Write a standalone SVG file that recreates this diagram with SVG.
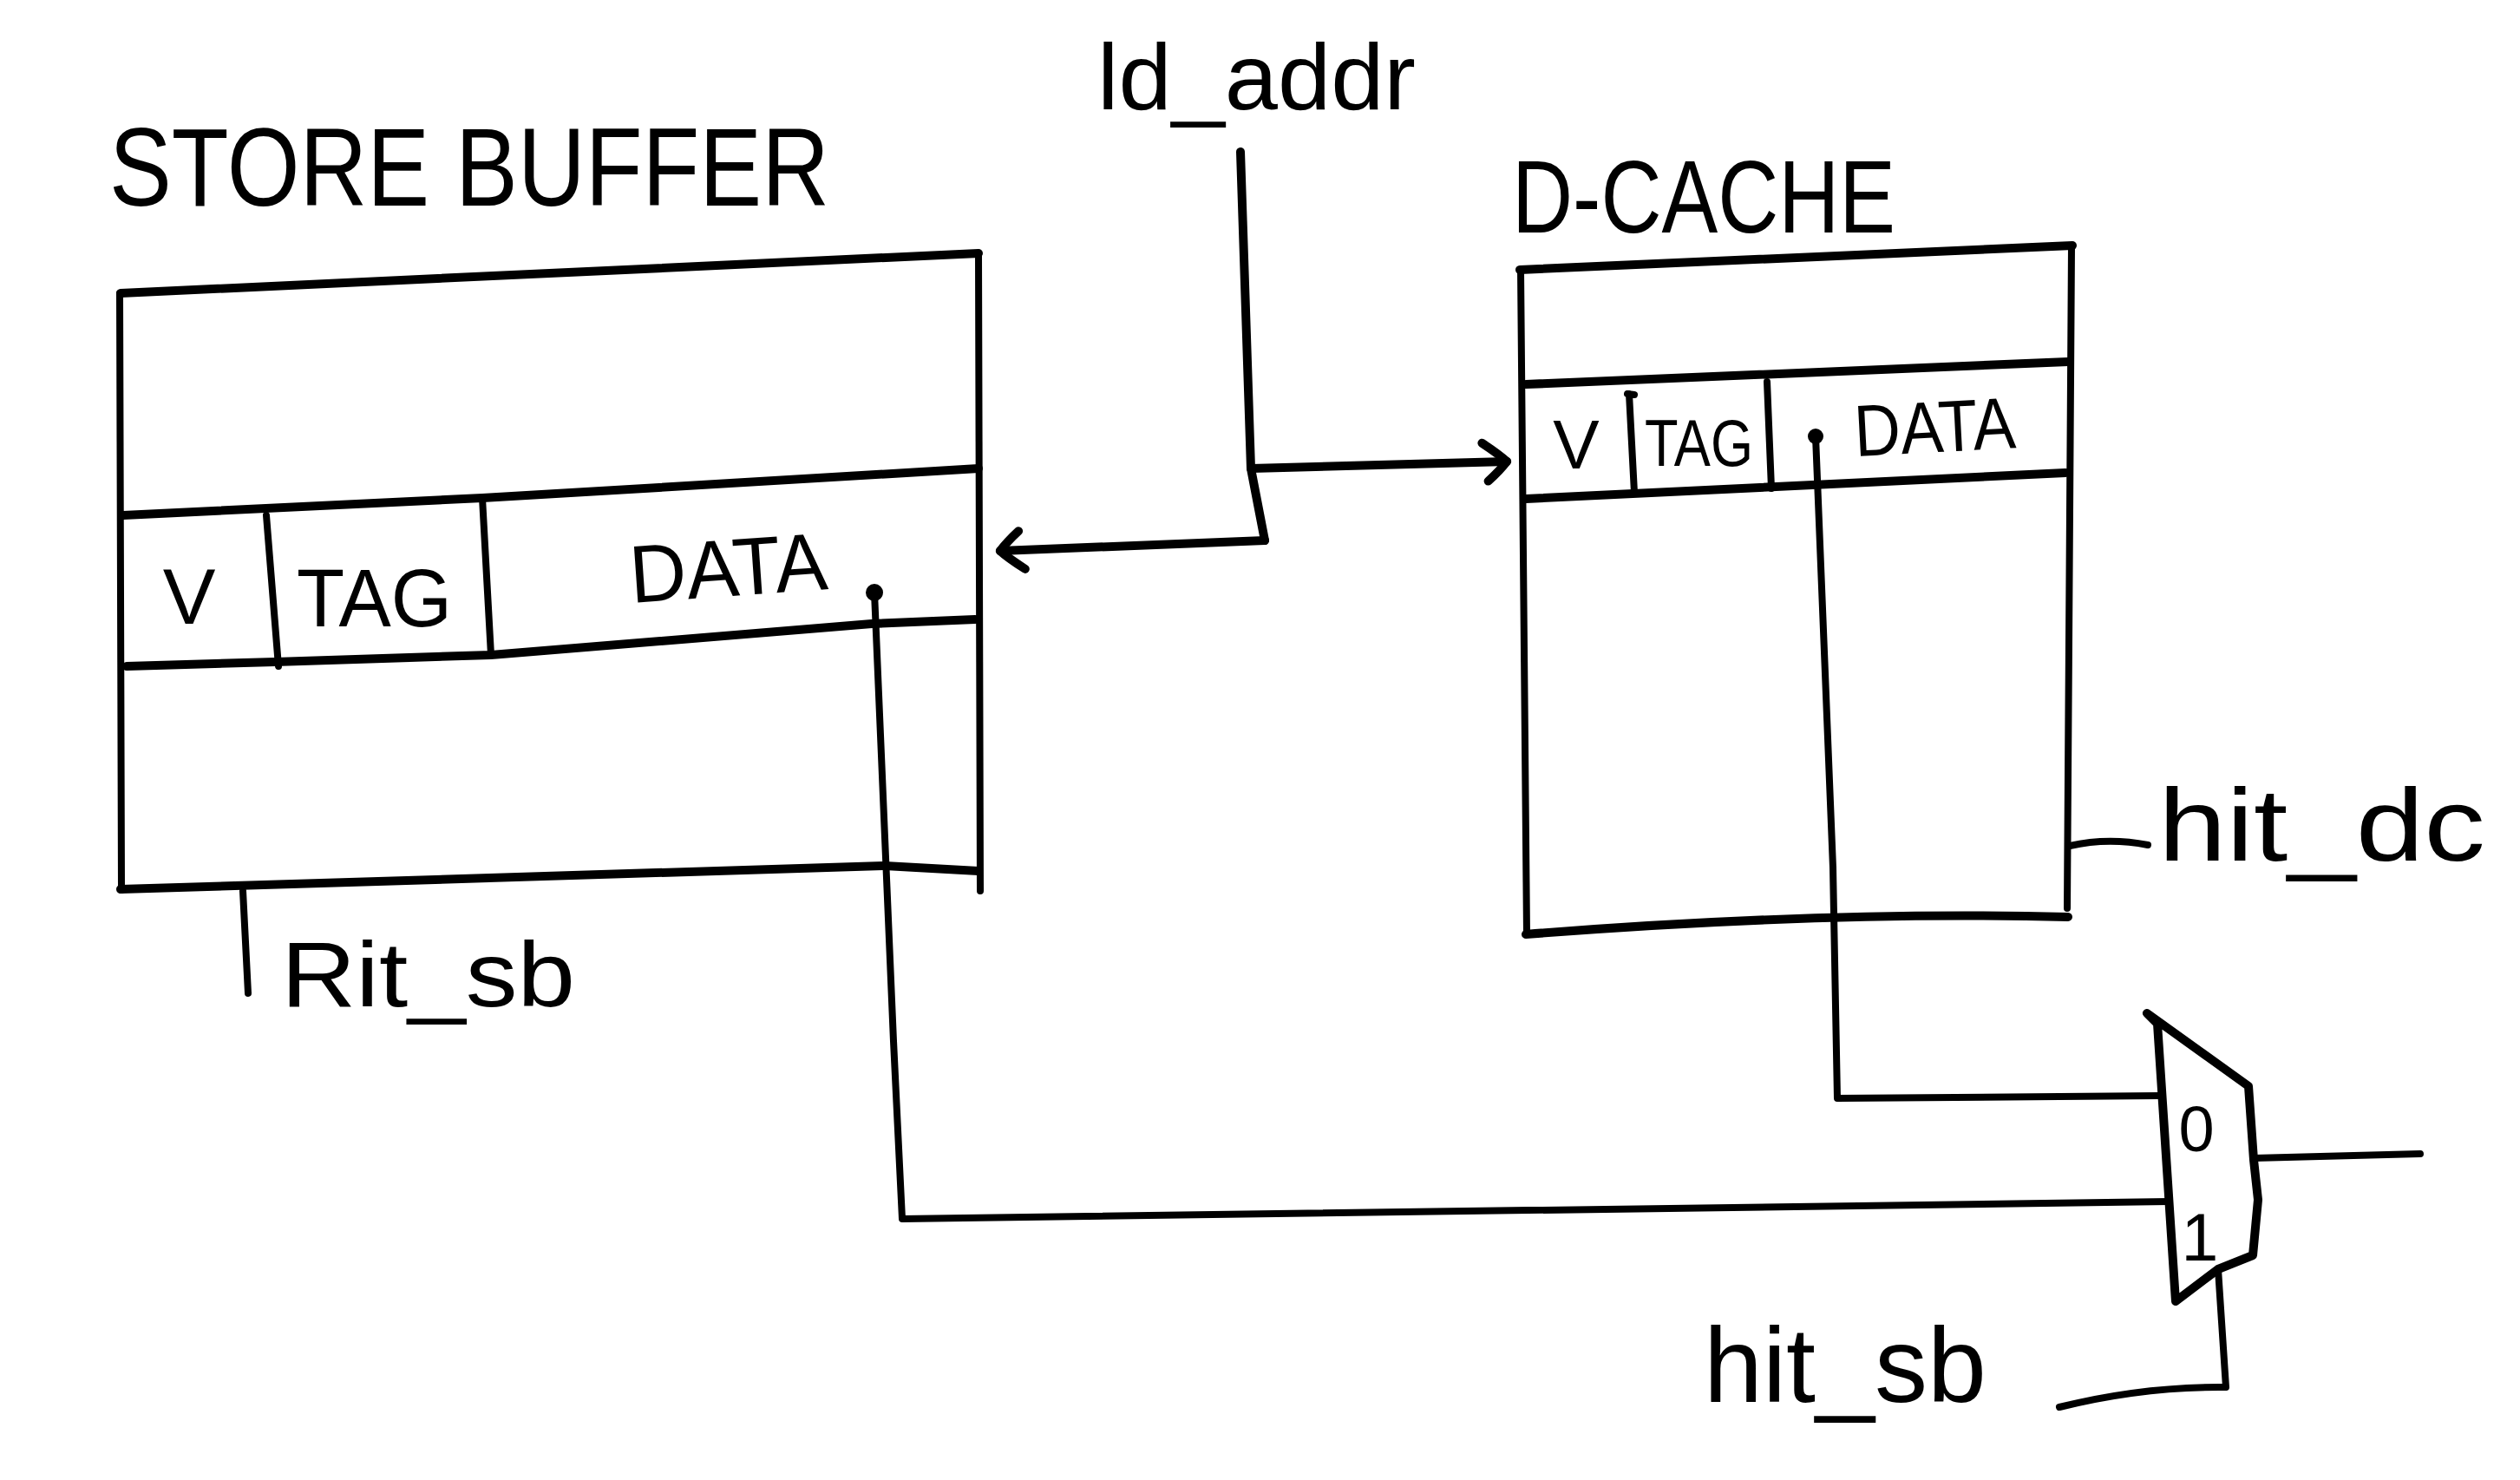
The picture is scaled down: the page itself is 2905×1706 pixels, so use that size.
<svg xmlns="http://www.w3.org/2000/svg" width="2905" height="1706" viewBox="0 0 2905 1706">
<style>
.ln{fill:none;stroke:#000;stroke-width:10;stroke-linecap:round;stroke-linejoin:round}
.th{fill:none;stroke:#000;stroke-width:8;stroke-linecap:round;stroke-linejoin:round}
.tx{font-family:"Liberation Sans","DejaVu Sans",sans-serif;fill:#000}
.dot{fill:#000}
</style>
<defs>
<marker id="arr" viewBox="0 0 50 60" refX="42" refY="30" markerWidth="50" markerHeight="60" markerUnits="userSpaceOnUse" orient="auto" overflow="visible">
<path d="M14 8 Q34 22 42 30 Q34 40 20 52" fill="none" stroke="#000" stroke-width="10" stroke-linecap="round" stroke-linejoin="round"/>
</marker>
</defs>
<rect width="2905" height="1706" fill="#fff"/>

<g id="store-buffer">
<text class="tx" x="126" y="237" font-size="128" textLength="830" lengthAdjust="spacingAndGlyphs">STORE BUFFER</text>
<path class="ln" d="M139,338 Q591,318 1128,292"/>
<path class="th" d="M138,338 L140,1026"/>
<path class="th" d="M1128,292 L1130,1027"/>
<path class="ln" d="M142,594 L556,574 L1128,540"/>
<path class="ln" d="M146,768 L317,763 L566,755 L1005,719 L1124,714"/>
<path class="ln" d="M139,1025 L1020,998 L1128,1004"/>
<path class="th" d="M307,594 L321,768"/>
<path class="th" d="M556,574 L566,755"/>
<text class="tx" x="218" y="719" font-size="91" text-anchor="middle">V</text>
<text class="tx" x="342" y="722" font-size="95" textLength="179" lengthAdjust="spacingAndGlyphs">TAG</text>
<text class="tx" x="728" y="695" font-size="94" textLength="228" lengthAdjust="spacingAndGlyphs" transform="rotate(-4 728 695)">DATA</text>
<circle class="dot" cx="1008" cy="683" r="10"/>
</g>

<g id="d-cache">
<text class="tx" x="1743" y="268" font-size="119" textLength="442" lengthAdjust="spacingAndGlyphs">D-CACHE</text>
<path class="ln" d="M1752,311 L2389,283"/>
<path class="th" d="M1753,311 L1760,1077"/>
<path class="th" d="M2388,284 L2383,1047"/>
<path class="ln" d="M1759,443 L2384,417"/>
<path class="ln" d="M1759,575 L2381,545"/>
<path class="ln" d="M1759,1077 Q2100,1050 2384,1057"/>
<path class="th" d="M1876,454 L1884,455 M1878,454 L1884,568"/>
<path class="th" d="M2037,440 L2042,563"/>
<text class="tx" x="1817" y="540" font-size="80" text-anchor="middle">V</text>
<text class="tx" x="1896" y="537" font-size="76" textLength="125" lengthAdjust="spacingAndGlyphs">TAG</text>
<text class="tx" x="2139" y="526" font-size="84" textLength="186" lengthAdjust="spacingAndGlyphs" transform="rotate(-3 2139 526)">DATA</text>
<circle class="dot" cx="2093" cy="503" r="9"/>
</g>

<g id="mux">
<path class="ln" d="M2475,1168 L2487,1180 L2508,1500 L2557,1463 L2597,1447 L2603,1383 L2598,1337 L2592,1252 Z"/>
<text class="tx" x="2532" y="1327" font-size="74" text-anchor="middle">0</text>
<text class="tx" x="2536" y="1453" font-size="77" text-anchor="middle">1</text>
</g>

<g id="label-ld-addr"><text class="tx" x="1265" y="126" font-size="108" textLength="367" lengthAdjust="spacingAndGlyphs">ld_addr</text></g>
<g id="label-hit-sb-top"><text class="tx" x="324" y="1160" font-size="106" textLength="339" lengthAdjust="spacingAndGlyphs">Rit_sb</text></g>
<g id="label-hit-dc"><text class="tx" x="2488" y="992" font-size="119" textLength="377" lengthAdjust="spacingAndGlyphs">hit_dc</text></g>
<g id="label-hit-sb"><text class="tx" x="1964" y="1616" font-size="122" textLength="326" lengthAdjust="spacingAndGlyphs">hit_sb</text></g>

<g id="connectors">
<path class="ln" d="M1430,175 L1442,540 L1458,623"/>
<path class="ln" d="M1442,540 L1737,532" marker-end="url(#arr)"/>
<path class="ln" d="M1458,623 L1153,635" marker-end="url(#arr)"/>
<path class="th" d="M1008,683 L1030,1200 L1040,1405 L2500,1385"/>
<path class="th" d="M2093,503 L2113,1000 L2118,1266 L2492,1263"/>
<path class="th" d="M2598,1335 L2790,1330"/>
<path class="th" d="M2557,1463 L2566,1599 Q2470,1598 2374,1622"/>
<path class="th" d="M2386,975 Q2430,965 2476,974"/>
<path class="th" d="M280,1027 L286,1145"/>
</g>
</svg>
